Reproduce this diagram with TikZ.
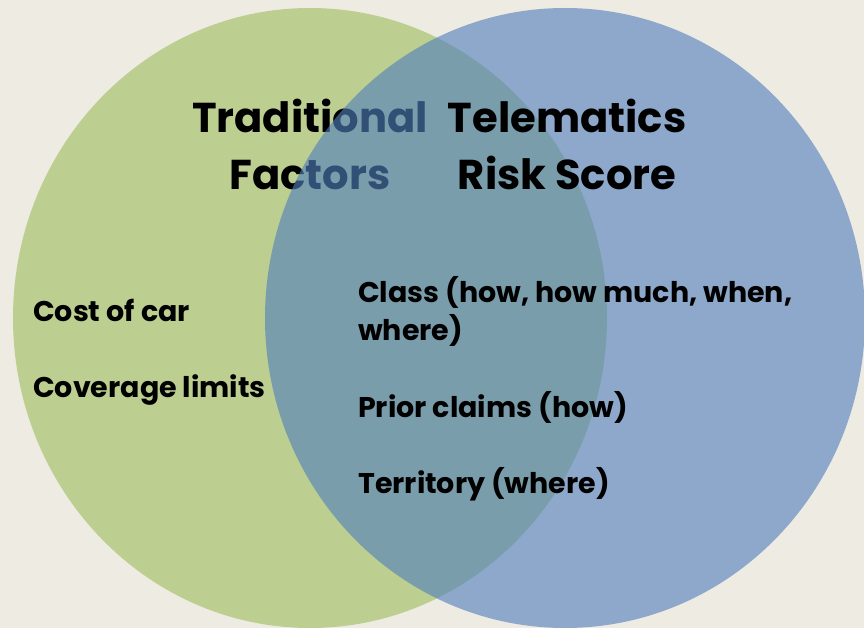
\documentclass[tikz,border=0pt]{standalone}
\usepackage{fontspec}
\setmainfont{Poppins}
\usetikzlibrary{positioning}
\definecolor{paper}{RGB}{238,235,226}
\definecolor{sage}{RGB}{188,206,144}
\definecolor{steel}{RGB}{82,128,190}
\tikzset{
  head/.style={font=\fontsize{41.7}{57}\selectfont\bfseries, inner sep=0pt, anchor=base},
  item/.style={font=\fontsize{28.5}{38}\selectfont\bfseries, inner sep=0pt, anchor=base west, align=left},
}

\begin{document}
\begin{tikzpicture}[x=1pt, y=-1pt]
  \fill[paper] (0,0) rectangle (864,628);
  \useasboundingbox (0,0) rectangle (864,628);
  % left set, its title goes under the right set
  \fill[sage] (310,318) ellipse [x radius=297, y radius=310];
  \node[head] (trad) at (310,133) {Traditional};
  \node[head] (fact) at (310,190) {Factors};
  % right set, see-through
  \fill[steel, fill opacity=0.62] (565,318) ellipse [x radius=300, y radius=310];
  \node[head] (tele) at (567,133) {Telematics};
  \node[head] (risk) at (567,190) {Risk Score};
  % factors
  \node[item] (cost)  at (33,321)  {Cost of car};
  \node[item] (cover) at (33,397)  {Coverage limits};
  \node[item] (class) at (358,340) {Class (how, how much, when,\\where)};
  \node[item] (prior) at (358,417) {Prior claims (how)};
  \node[item] (terr)  at (358,493) {Territory (where)};
\end{tikzpicture}
\end{document}
